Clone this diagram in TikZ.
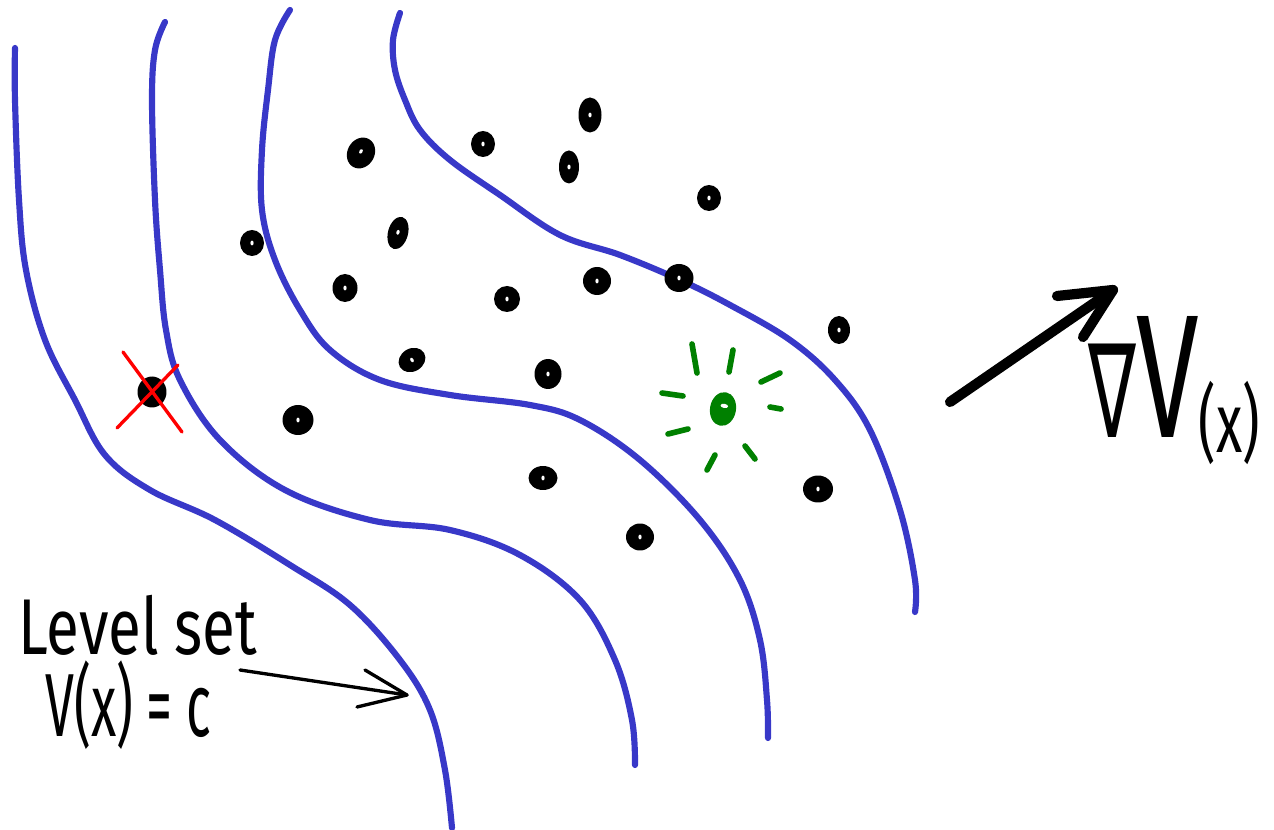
\documentclass[tikz,border=0pt]{standalone}
\usepackage{fontspec}
\setmainfont{DejaVu Sans}
\newfontfamily\handfam{Fira Sans}
\usetikzlibrary{shapes.geometric}
\definecolor{lsblue}{RGB}{56,56,200}
\definecolor{sgreen}{RGB}{0,128,0}
\newcommand{\handfont}{\handfam}
\tikzset{
  lvl/.style={draw=lsblue, line width=3.5pt, line cap=round, line join=round},
  dot/.style={ellipse, fill=black, minimum width=0.48cm, minimum height=0.52cm, inner sep=0pt,
    path picture={\fill[white] (path picture bounding box.center) ellipse (0.9pt and 1.4pt);}},
  tall/.style={minimum width=0.40cm, minimum height=0.66cm},
  ray/.style={draw=sgreen, line width=3.2pt, line cap=round},
  cross/.style={draw=red, line width=1.9pt, line cap=round},
  pen/.style={draw=black, line width=1.9pt, line cap=round, line join=round},
  bigpen/.style={draw=black, line width=5.8pt, line cap=round, line join=round},
  hand/.style={inner sep=0pt, text=black}
}
\begin{document}
\begin{tikzpicture}[x=0.02cm,y=-0.02cm]
\useasboundingbox[fill=white] (0,0) rectangle (1274,830);
% level sets
\draw[lvl] plot[smooth, tension=0.6] coordinates {(15,48) (15,100) (19,200) (26,270) (45,340) (75,400) (105,455) (150,490) (215,520) (290,565) (350,605) (400,660) (430,710) (445,770) (452,828)};
\draw[lvl] plot[smooth, tension=0.6] coordinates {(165,22) (155,50) (152,100) (155,200) (160,270) (166,330) (180,380) (220,440) (285,490) (370,520) (450,530) (520,555) (580,600) (615,660) (632,720) (635,765)};
\draw[lvl] plot[smooth, tension=0.6] coordinates {(290,10) (275,40) (268,90) (262,150) (262,210) (275,260) (300,310) (330,350) (380,380) (450,395) (530,405) (580,420) (640,460) (700,520) (740,580) (760,640) (767,700) (768,738)};
\draw[lvl] plot[smooth, tension=0.6] coordinates {(400,13) (393,40) (395,70) (405,100) (420,130) (450,160) (500,195) (560,235) (620,255) (680,280) (730,305) (790,340) (835,380) (870,430) (900,510) (915,580) (915,612)};
% dots
\node[dot,minimum width=0.54cm,minimum height=0.64cm,rotate=-30] (d1) at (361,153) {};
\node[dot] (d2) at (483,144) {};
\node[dot,tall,minimum width=0.46cm,minimum height=0.70cm] (d3) at (590,115) {};
\node[dot,tall] (d4) at (569,167) {};
\node[dot] (d5) at (709,198) {};
\node[dot] (d6) at (252,243) {};
\node[dot,tall,rotate=-15] (d7) at (398,233) {};
\node[dot,minimum width=0.50cm,minimum height=0.56cm] (d8) at (345,288) {};
\node[dot,minimum width=0.52cm,minimum height=0.52cm] (d9) at (507,299) {};
\node[dot,minimum width=0.56cm,minimum height=0.56cm] (d10) at (597,281) {};
\node[dot,minimum width=0.58cm,minimum height=0.56cm] (d11) at (679,278) {};
\node[dot,minimum width=0.44cm,minimum height=0.56cm] (d12) at (839,330) {};
\node[dot,rotate=30,minimum width=0.56cm,minimum height=0.46cm] (d13) at (412,360) {};
\node[dot,minimum width=0.54cm,minimum height=0.60cm] (d14) at (548,374) {};
\node[dot,minimum width=0.62cm,minimum height=0.60cm] (d15) at (298,420) {};
\node[dot,minimum width=0.58cm,minimum height=0.48cm] (d16) at (543,478) {};
\node[dot,minimum width=0.56cm,minimum height=0.54cm] (d17) at (640,537) {};
\node[dot,minimum width=0.60cm,minimum height=0.54cm] (d18) at (818,489) {};
% crossed-out dot
\node[ellipse, fill=black, minimum width=0.58cm, minimum height=0.62cm, inner sep=0pt] (bad) at (152,392) {};
\coordinate (x1a) at (123,352); \coordinate (x1b) at (182,432);
\coordinate (x2a) at (117,428); \coordinate (x2b) at (178,365);
\draw[cross] (x1a) -- (x1b);
\draw[cross] (x2a) -- (x2b);
% green dot
\node[ellipse, fill=sgreen, minimum width=0.52cm, minimum height=0.68cm, inner sep=0pt, rotate=-10,
  path picture={\fill[white,rotate=-30] ([xshift=0.5pt,yshift=1.5pt]path picture bounding box.center) ellipse (2.2pt and 1.2pt);}] (good) at (723,409) {};
\draw[ray] (692,344) -- (697,373);
\draw[ray] (733,350) -- (729,372);
\draw[ray] (761,382) -- (780,373);
\draw[ray] (662,393) -- (683,396);
\draw[ray] (770,407) -- (781,409);
\draw[ray] (668,434) -- (688,429);
\draw[ray] (715,455) -- (707,470);
\draw[ray] (745,446) -- (755,459);
% gradient arrow
\coordinate (gs) at (950,402);
\coordinate (gt) at (1113,290);
\coordinate (ga) at (1057,296);
\coordinate (gb) at (1083,337);
\draw[bigpen] (gs) -- (gt);
\draw[bigpen] (ga) -- (gt) -- (gb);
\node[hand, anchor=base west] (grad) at (1088,438) {\scalebox{0.55}[1]{\fontsize{74pt}{78pt}\selectfont ∇}\scalebox{0.64}[1]{\handfont{\fontsize{100pt}{104pt}\selectfont V}\raisebox{-8pt}{\fontsize{48pt}{52pt}\selectfont (x)}}};
% level set label
\node[hand, anchor=base west] (lab1) at (18,654) {\scalebox{0.76}[1]{\handfont\fontsize{45pt}{50pt}\selectfont Level set}};
\node[hand, anchor=base west] (lab2) at (45,736) {\scalebox{0.58}[1]{\handfont\fontsize{51pt}{56pt}\selectfont V(x) = c}};
\coordinate (ls) at (240,670);
\coordinate (lt) at (407,695);
\coordinate (la) at (365,670);
\coordinate (lb) at (357,707);
\draw[pen] (ls) -- (lt);
\draw[pen] (la) -- (lt) -- (lb);
\end{tikzpicture}
\end{document}
